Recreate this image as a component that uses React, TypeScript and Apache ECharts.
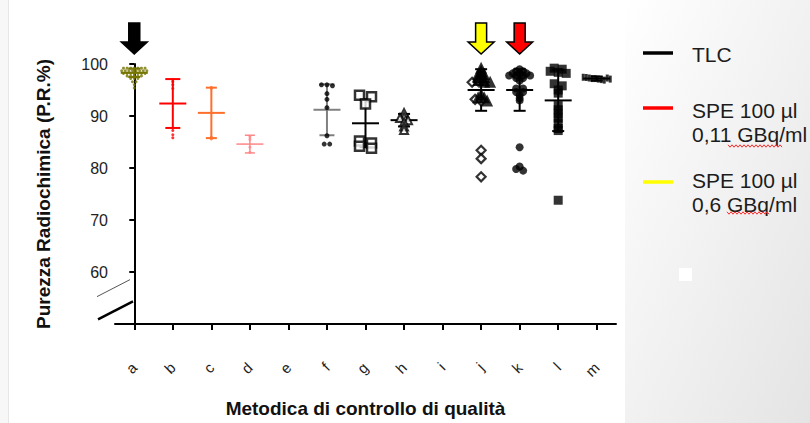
import React, { useEffect, useRef } from 'react';
import * as echarts from 'echarts';

// ---------- data ----------
const categories = ['a', 'b', 'c', 'd', 'e', 'f', 'g', 'h', 'i', 'j', 'k', 'l', 'm'];
const yMin = 50;
const yMax = 100;
const yStep = 10;

const pointsA = [
  99.2, 99.2, 99.2, 99.2, 99.2, 99.2, 99.2,
  98.7, 98.7, 98.7, 98.7, 98.7, 98.7, 98.7, 98.7,
  98.2, 98.2, 98.2, 98.2, 98.2, 98.2, 98.2,
  97.7, 97.7, 97.7, 97.7, 97.7,
  97.2, 97.2, 97.2,
  96.6, 96.6, 96.0, 95.4,
];
const pointsB = [97.0, 96.6, 96.0, 95.3, 87.7, 87.2, 86.4, 85.8];
const pointsC = [95.5, 95.3, 85.9, 85.6];
const pointsD = [86.0, 85.5, 84.0, 83.0];
const pointsF = [96.0, 96.0, 95.8, 94.3, 93.2, 91.6, 86.2, 84.6, 84.6];
const pointsG = [94.0, 93.7, 92.3, 85.2, 84.8, 84.2, 83.8];
const pointsH = [90.6, 89.8, 89.6, 89.2, 88.8, 88.0, 87.3];
const pointsJDiamonds = [96.5, 96.7, 93.2, 92.9, 83.4, 81.8, 78.3];
const pointsJTriangles = [99.3, 98.7, 98.1, 98.1, 97.5, 97.5, 96.9, 96.9, 96.6, 96.6, 94.2, 93.6, 93.6, 93.0];
const pointsK = [
  99.0, 98.6, 98.6, 98.2, 98.2, 98.2, 97.8, 97.8, 97.8, 97.8, 97.3, 97.3, 96.8,
  95.3, 95.3, 94.6, 94.6, 94.0, 93.4, 93.0, 84.0, 80.3, 79.8, 79.5,
];
const pointsL = [99.2, 99.0, 98.6, 98.4, 98.2, 96.2, 95.8, 95.0, 94.4, 92.0, 91.2, 90.4, 89.6, 88.6, 87.6, 87.2, 73.8];
const pointsM = [97.45, 97.4, 97.3, 97.2, 97.2, 97.1, 97.0, 96.9, 97.3, 97.1];

// mean ± SD bars
const errCats = ['a', 'b', 'c', 'd', 'f', 'g', 'h', 'j', 'k', 'l', 'm'];
const errMeans = [98.3, 92.4, 90.6, 84.6, 91.2, 88.6, 89.2, 95.0, 95.0, 93.0, 97.2];
const errSDs = [0.8, 4.7, 4.85, 1.7, 4.9, 4.6, 1.2, 4.0, 4.0, 5.9, 0.4];

const arrowCats = ['a', 'j', 'k'];
const legendNames = ['TLC', 'SPE 100 µl\n0,11 GBq/ml', 'SPE 100 µl\n0,6 GBq/ml'];

// ---------- styles ----------
const FONT = 'Liberation Sans, Arial, Helvetica, sans-serif';
const OLIVE = '#767600';
const RED = '#ff0000';
const ORANGE = '#ff6f2c';
const PINK = '#ff8787';
const GREY = '#808080';
const errColors = [OLIVE, RED, ORANGE, PINK, GREY, '#000', '#000', '#000', '#000', '#000', '#000'];
const errLineW = [2, 2, 2, 1.5, 2, 2, 2, 2, 2, 2, 2];
const errCapW = [12, 15, 11, 10, 15, 12, 12, 12, 12, 12, 12];
const arrowColors = ['#000000', '#ffff00', '#ff0000'];
const legendColors = ['#000000', '#ff0000', '#ffff00'];

const GRID_LEFT = 115;
const GRID_RIGHT = 194;
const GRID_TOP = 64;
const GRID_BOTTOM = 97;
const BAND = (810 - GRID_LEFT - GRID_RIGHT) / categories.length;

// simple dot-plot spreading (points with similar values are spread sideways)
function swarm(cat: string, sets: number[][], binV: number, dxPx: number) {
  const ci = categories.indexOf(cat);
  const all: { v: number; s: number }[] = [];
  sets.forEach((vals, s) => vals.forEach((v) => all.push({ v, s })));
  const bins = new Map<number, { v: number; s: number }[]>();
  all.forEach((p) => {
    const k = Math.round(p.v / binV);
    if (!bins.has(k)) bins.set(k, []);
    bins.get(k)!.push(p);
  });
  const out: number[][][] = sets.map(() => []);
  bins.forEach((list) => {
    list.forEach((p, i) => {
      const off = ((i - (list.length - 1) / 2) * dxPx) / BAND;
      out[p.s].push([ci + off, p.v]);
    });
  });
  return out;
}

function scatter(data: number[][], symbol: string, size: any, fill: string, stroke?: string, lw?: number) {
  return {
    type: 'scatter',
    xAxisIndex: 1,
    yAxisIndex: 0,
    data,
    symbol,
    symbolSize: size,
    z: 4,
    silent: true,
    itemStyle: stroke ? { color: fill, borderColor: stroke, borderWidth: lw } : { color: fill, borderWidth: 0 },
  };
}

function wavy(x0: number, x1: number, y: number) {
  const pts: number[][] = [];
  let up = true;
  for (let x = x0; x <= x1; x += 2) {
    pts.push([x, y + (up ? -1.2 : 1.2)]);
    up = !up;
  }
  return pts;
}

export default function App() {
  const ref = useRef<HTMLDivElement>(null);

  useEffect(() => {
    if (!ref.current) return;
    const chart = echarts.init(ref.current, undefined, { renderer: 'svg' });

    const sA = swarm('a', [pointsA], 0.3, 3.6);
    const sB = swarm('b', [pointsB], 0.4, 3);
    const sC = swarm('c', [pointsC], 0.4, 3);
    const sD = swarm('d', [pointsD], 0.4, 3);
    const sF = swarm('f', [pointsF], 0.5, 5.5);
    const sG = swarm('g', [pointsG], 1.0, 12);
    const sH = swarm('h', [pointsH], 0.6, 8);
    const sJ = swarm('j', [pointsJDiamonds, pointsJTriangles], 0.6, 6);
    const sK = swarm('k', [pointsK], 0.45, 7);
    const sL = swarm('l', [pointsL], 0.6, 8);
    const sM = swarm('m', [pointsM], 1.0, 3);

    const errData = errCats.map((c, k) => [categories.indexOf(c), errMeans[k], errSDs[k]]);

    const legendGraphics: any[] = [];
    const legendLineY = [53, 108, 182];
    const legendTextY = [54, 110, 180];
    legendNames.forEach((name, i) => {
      legendGraphics.push({
        type: 'line',
        shape: { x1: 643, y1: legendLineY[i], x2: 673, y2: legendLineY[i] },
        style: { stroke: legendColors[i], lineWidth: 3.5 },
      });
      const lines = name.split('\n');
      lines.forEach((t, j) => {
        legendGraphics.push({
          type: 'text',
          x: 692,
          y: legendTextY[i] + j * 24,
          style: {
            text: t,
            fill: '#1c1c1c',
            font: `21px ${FONT}`,
            textVerticalAlign: 'middle',
            textAlign: 'left',
          },
        });
      });
    });

    const option: any = {
      animation: false,
      backgroundColor: '#ffffff',
      grid: { left: GRID_LEFT, right: GRID_RIGHT, top: GRID_TOP, bottom: GRID_BOTTOM, containLabel: false },
      xAxis: [
        {
          type: 'category',
          data: categories,
          boundaryGap: true,
          name: 'Metodica di controllo di qualità',
          nameLocation: 'middle',
          nameGap: 75,
          nameTextStyle: { fontFamily: FONT, fontWeight: 'bold', fontSize: 19, color: '#111' },
          axisLine: { show: true, lineStyle: { color: '#000', width: 2 } },
          axisTick: { show: true, alignWithLabel: true, length: 6, lineStyle: { color: '#000', width: 2 } },
          axisLabel: { rotate: 45, margin: 41, fontFamily: FONT, fontSize: 15, color: '#222', interval: 0 },
          splitLine: { show: false },
        },
        { type: 'value', min: -0.5, max: categories.length - 0.5, show: false },
      ],
      yAxis: {
        type: 'value',
        min: yMin,
        max: yMax,
        interval: yStep,
        name: 'Purezza Radiochimica (P.R.%)',
        nameLocation: 'middle',
        nameGap: 62,
        nameTextStyle: { fontFamily: FONT, fontWeight: 'bold', fontSize: 19, color: '#111' },
        axisLine: { show: true, lineStyle: { color: '#000', width: 2 } },
        axisTick: { show: true, length: 5, lineStyle: { color: '#000', width: 2 } },
        axisLabel: {
          margin: 7,
          fontFamily: FONT,
          fontSize: 16,
          color: '#222',
          formatter: (v: number) => (v === yMin ? '' : String(v)),
        },
        splitLine: { show: false },
      },
      graphic: [
        {
          type: 'rect',
          z: -10,
          shape: { x: 625, y: 0, width: 185, height: 423 },
          style: {
            fill: new echarts.graphic.LinearGradient(0, 0, 1, 1, [
              { offset: 0, color: '#ffffff' },
              { offset: 1, color: '#e4e4e4' },
            ]),
          },
        },
        { type: 'rect', z: -9, shape: { x: 679, y: 268, width: 13, height: 13 }, style: { fill: '#ffffff' } },
        { type: 'rect', z: -10, shape: { x: 0, y: 0, width: 8, height: 423 }, style: { fill: '#f7f7f7' } },
        { type: 'line', z: -9, shape: { x1: 8.5, y1: 0, x2: 8.5, y2: 423 }, style: { stroke: '#e6e6e6', lineWidth: 1 } },
        ...legendGraphics,
        { type: 'polyline', shape: { points: wavy(728, 782, 146) }, style: { stroke: '#ff2a2a', lineWidth: 1, fill: null } },
        { type: 'polyline', shape: { points: wavy(727, 770, 213) }, style: { stroke: '#ff2a2a', lineWidth: 1, fill: null } },
      ],
      series: [
        // axis break
        {
          type: 'custom',
          xAxisIndex: 1,
          yAxisIndex: 0,
          clip: false,
          silent: true,
          z: 6,
          data: [[-0.5, 55]],
          renderItem: (params: any, api: any) => {
            const xv = api.value(0);
            const pTop = api.coord([xv, 57.1]);
            const pBot = api.coord([xv, 53.1]);
            const pU = api.coord([xv, 56.8]);
            const pL = api.coord([xv, 52.6]);
            return {
              type: 'group',
              children: [
                { type: 'rect', shape: { x: pTop[0] - 3, y: pTop[1], width: 6, height: pBot[1] - pTop[1] }, style: { fill: '#fff' } },
                { type: 'line', shape: { x1: pU[0] - 18, y1: pU[1] + 8, x2: pU[0] + 15, y2: pU[1] - 9 }, style: { stroke: '#555', lineWidth: 1 } },
                { type: 'line', shape: { x1: pL[0] - 17, y1: pL[1] + 9, x2: pL[0] + 18, y2: pL[1] - 9 }, style: { stroke: '#000', lineWidth: 2.5 } },
              ],
            };
          },
        },
        // arrows
        {
          type: 'custom',
          xAxisIndex: 1,
          yAxisIndex: 0,
          clip: false,
          silent: true,
          z: 6,
          data: arrowCats.map((c) => [categories.indexOf(c), yMax]),
          renderItem: (params: any, api: any) => {
            const p = api.coord([api.value(0), api.value(1)]);
            const x = p[0];
            const tip = p[1] - 10;
            const base = tip - 12;
            const top = tip - 31;
            const sw = 5.5;
            const hw = 13;
            return {
              type: 'polygon',
              shape: {
                points: [
                  [x - sw, top], [x + sw, top], [x + sw, base], [x + hw, base],
                  [x, tip], [x - hw, base], [x - sw, base],
                ],
              },
              style: { fill: arrowColors[params.dataIndex], stroke: '#000', lineWidth: 1.5 },
            };
          },
        },
        // mean ± SD
        {
          type: 'custom',
          xAxisIndex: 1,
          yAxisIndex: 0,
          clip: false,
          silent: true,
          z: 3,
          data: errData,
          renderItem: (params: any, api: any) => {
            const i = params.dataIndex;
            const x = api.value(0);
            const m = api.value(1);
            const sd = api.value(2);
            const pm = api.coord([x, m]);
            const pt = api.coord([x, m + sd]);
            const pb = api.coord([x, m - sd]);
            const col = errColors[i];
            const lw = errLineW[i];
            const cap = errCapW[i] / 2;
            const mw = 13.5;
            const st = { stroke: col, lineWidth: lw };
            return {
              type: 'group',
              children: [
                { type: 'line', shape: { x1: pm[0], y1: pt[1], x2: pm[0], y2: pb[1] }, style: st },
                { type: 'line', shape: { x1: pm[0] - cap, y1: pt[1], x2: pm[0] + cap, y2: pt[1] }, style: st },
                { type: 'line', shape: { x1: pm[0] - cap, y1: pb[1], x2: pm[0] + cap, y2: pb[1] }, style: st },
                { type: 'line', shape: { x1: pm[0] - mw, y1: pm[1], x2: pm[0] + mw, y2: pm[1] }, style: st },
              ],
            };
          },
        },
        scatter(sA[0], 'circle', 3, OLIVE),
        scatter(sB[0], 'circle', 3, RED),
        scatter(sC[0], 'circle', 3, ORANGE),
        scatter(sD[0], 'circle', 3, PINK),
        scatter(sF[0], 'circle', 5, '#000'),
        scatter(sG[0], 'rect', 9, '#fff', '#000', 2.5),
        scatter(sH[0], 'triangle', 8, '#fff', '#000', 2),
        scatter(sJ[0], 'diamond', 9, '#fff', '#000', 2.2),
        scatter(sJ[1], 'triangle', 12, '#000'),
        scatter(sK[0], 'circle', 8, '#000'),
        scatter(sL[0], 'rect', 9, '#000'),
        scatter(sM[0], 'rect', [3, 7], '#000'),
      ],
    };

    chart.setOption(option);
    return () => chart.dispose();
  }, []);

  return (
    <div
      ref={ref}
      style={{ position: 'absolute', left: 0, top: 0, width: 810, height: 423, background: '#fff' }}
    />
  );
}
